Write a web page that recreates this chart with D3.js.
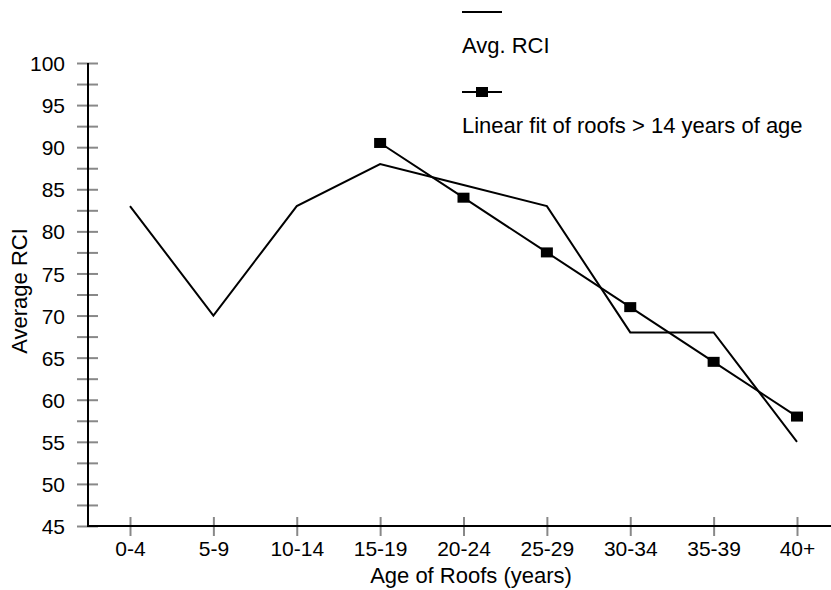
<!DOCTYPE html>
<html>
<head>
<meta charset="utf-8">
<script src="https://cdn.jsdelivr.net/npm/d3@7"></script>
<style>
  html, body { margin: 0; padding: 0; background: #fff; }
  svg { display: block; }
  text { font-family: "Liberation Sans", Arial, sans-serif; fill: #000; }
</style>
</head>
<body>
<svg id="chart" width="831" height="590"></svg>
<script>
const categories = ["0-4", "5-9", "10-14", "15-19", "20-24", "25-29", "30-34", "35-39", "40+"];
const avgRCI = [83, 70, 83, 88, 85.5, 83, 68, 68, 55];
const fitCategories = ["15-19", "20-24", "25-29", "30-34", "35-39", "40+"];
const fitValues = [90.5, 84, 77.5, 71, 64.5, 58];
const yMajorTicks = [45, 50, 55, 60, 65, 70, 75, 80, 85, 90, 95, 100];
const yMinorTicks = [47.5, 52.5, 57.5, 62.5, 67.5, 72.5, 77.5, 82.5, 87.5, 92.5, 97.5];
const seriesNames = ["Avg. RCI", "Linear fit of roofs > 14 years of age"];
const xTitle = "Age of Roofs (years)";
const yTitle = "Average RCI";

const svg = d3.select("#chart");
const axisX0 = 88, axisY0 = 526, yTop = 63;
const x = d3.scalePoint().domain(categories).range([130, 797]);
const y = d3.scaleLinear().domain([45, 100]).range([axisY0, yTop]);
const fs = 21, fsT = 22;

// y axis
const yAxis = svg.append("g").attr("transform", `translate(${axisX0},0)`)
  .call(d3.axisLeft(y).tickValues(yMajorTicks.concat(yMinorTicks)).tickSize(0)
    .tickFormat(d => yMajorTicks.includes(d) ? d : ""));
yAxis.select(".domain").remove();
yAxis.selectAll(".tick line").remove();
yAxis.selectAll(".tick").append("line")
  .attr("x1", -11).attr("x2", 10).attr("stroke", "#888").attr("stroke-width", 2);
yAxis.selectAll(".tick text").attr("x", -23).attr("dy", "0.36em")
  .style("font-size", fs + "px").style("font-family", "Liberation Sans, Arial, sans-serif").attr("fill", "#000");
svg.append("line").attr("x1", axisX0).attr("x2", axisX0).attr("y1", yTop).attr("y2", axisY0)
  .attr("stroke", "#000").attr("stroke-width", 2);

// x axis
const xAxis = svg.append("g").attr("transform", `translate(0,${axisY0})`)
  .call(d3.axisBottom(x).tickSize(0));
xAxis.select(".domain").remove();
xAxis.selectAll(".tick").append("line")
  .attr("y1", -9).attr("y2", 10).attr("stroke", "#888").attr("stroke-width", 2);
xAxis.selectAll(".tick text").attr("y", 15).attr("dy", "0.71em")
  .style("font-size", fs + "px").style("font-family", "Liberation Sans, Arial, sans-serif").attr("fill", "#000");
svg.append("line").attr("x1", axisX0 - 1).attr("x2", 831).attr("y1", axisY0).attr("y2", axisY0)
  .attr("stroke", "#000").attr("stroke-width", 2);

// titles
svg.append("text").attr("x", 471).attr("y", 583).attr("text-anchor", "middle")
  .style("font-size", fsT + "px").text(xTitle);
svg.append("text").attr("transform", "translate(27,291) rotate(-90)").attr("text-anchor", "middle")
  .style("font-size", fsT + "px").text(yTitle);

// lines
const line = d3.line().x(d => x(d.c)).y(d => y(d.v));
const avgData = categories.map((c, i) => ({c, v: avgRCI[i]}));
const fitData = fitCategories.map((c, i) => ({c, v: fitValues[i]}));
svg.append("path").datum(avgData).attr("d", line).attr("fill", "none")
  .attr("stroke", "#000").attr("stroke-width", 2);
svg.append("path").datum(fitData).attr("d", line).attr("fill", "none")
  .attr("stroke", "#000").attr("stroke-width", 2);
svg.selectAll("rect.mk").data(fitData).enter().append("rect").attr("class", "mk")
  .attr("x", d => x(d.c) - 6).attr("y", d => y(d.v) - 5).attr("width", 12).attr("height", 10)
  .attr("fill", "#000");

// legend
const lg = svg.append("g");
lg.append("line").attr("x1", 462).attr("x2", 502).attr("y1", 12).attr("y2", 12)
  .attr("stroke", "#000").attr("stroke-width", 2);
lg.append("text").attr("x", 462).attr("y", 53).style("font-size", fsT + "px").text(seriesNames[0]);
lg.append("line").attr("x1", 462).attr("x2", 502).attr("y1", 92).attr("y2", 92)
  .attr("stroke", "#000").attr("stroke-width", 2);
lg.append("rect").attr("x", 476).attr("y", 87).attr("width", 12).attr("height", 10).attr("fill", "#000");
lg.append("text").attr("x", 462).attr("y", 133).style("font-size", fsT + "px").text(seriesNames[1]);
</script>
</body>
</html>
